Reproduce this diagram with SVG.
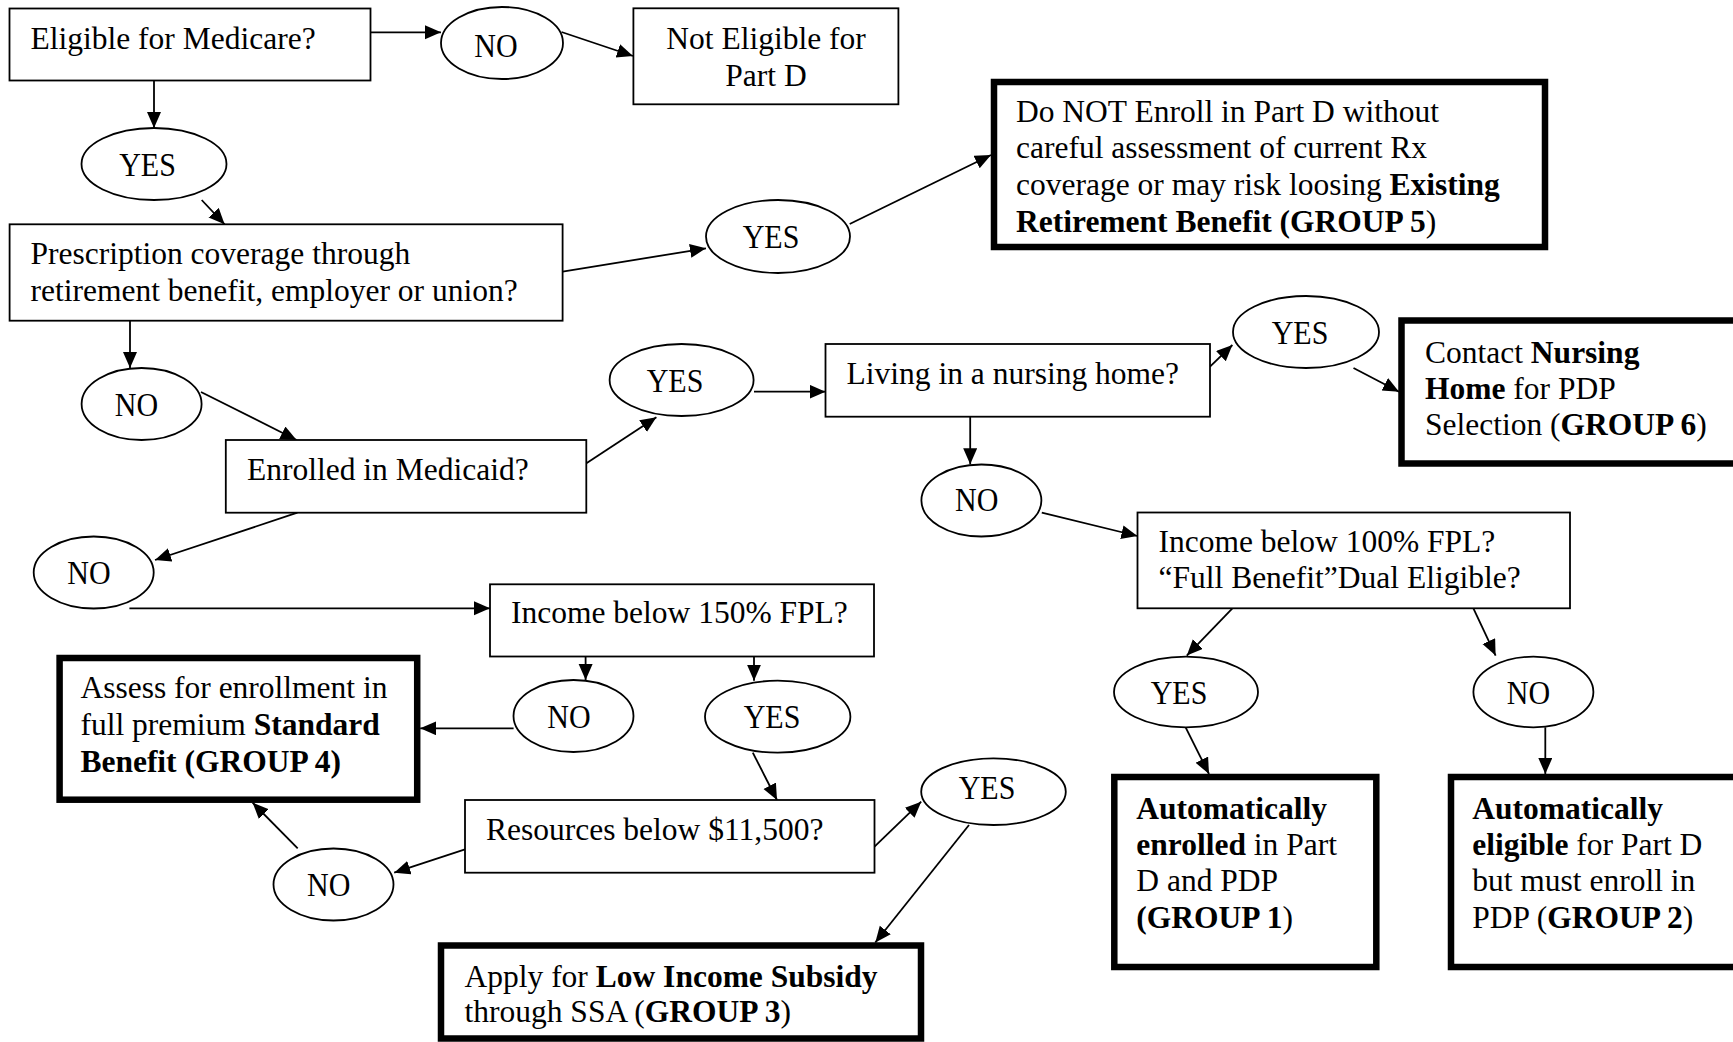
<svg xmlns="http://www.w3.org/2000/svg" width="1733" height="1042" viewBox="0 0 1733 1042">
<style>
.box{fill:#fff;stroke:#000;stroke-width:1.8}
.term{fill:#fff;stroke:#000;stroke-width:6.5}
.oval{fill:#fff;stroke:#000;stroke-width:1.8}
text{font-family:"Liberation Serif","Times New Roman",serif;font-size:31.5px;fill:#000}
.lbl{font-size:30px;text-anchor:middle}
.c{text-anchor:middle}
.b{font-weight:bold}
.con line{stroke:#000;stroke-width:1.8;marker-end:url(#ah)}
</style>
<defs>
<marker id="ah" markerUnits="userSpaceOnUse" markerWidth="17" markerHeight="15" refX="16" refY="7" orient="auto">
<path d="M0,0 L16,7 L0,14 z" fill="#000"/>
</marker>
</defs>
<rect width="1733" height="1042" fill="#fff"/>
<g id="connectors" class="con">
<line x1="370" y1="32.3" x2="441" y2="32.3"/>
<line x1="561.5" y1="32" x2="633" y2="56"/>
<line x1="154" y1="81" x2="154" y2="128"/>
<line x1="201.7" y1="200" x2="224.6" y2="224.3"/>
<line x1="562.6" y1="271.7" x2="706" y2="248.3"/>
<line x1="849.7" y1="224" x2="991" y2="155"/>
<line x1="130" y1="320.7" x2="130" y2="368"/>
<line x1="201" y1="392" x2="296.6" y2="440"/>
<line x1="586.4" y1="463.3" x2="656.4" y2="417.3"/>
<line x1="754" y1="391.7" x2="825.5" y2="391.7"/>
<line x1="1210" y1="366.7" x2="1232.4" y2="345"/>
<line x1="1353.5" y1="368" x2="1399" y2="391.7"/>
<line x1="970.2" y1="416.7" x2="970.2" y2="464.3"/>
<line x1="1041.8" y1="512.7" x2="1137.4" y2="536"/>
<line x1="1232.4" y1="608.3" x2="1186.8" y2="655.6"/>
<line x1="1473.4" y1="608.3" x2="1495.6" y2="655.6"/>
<line x1="1185.6" y1="727.3" x2="1209" y2="774"/>
<line x1="1545.3" y1="727.3" x2="1545.3" y2="774"/>
<line x1="297.4" y1="512.7" x2="155" y2="560"/>
<line x1="129.4" y1="608.3" x2="490" y2="608.3"/>
<line x1="585.6" y1="656.5" x2="585.6" y2="680"/>
<line x1="754" y1="656.5" x2="754" y2="680.7"/>
<line x1="513.6" y1="728.3" x2="420.2" y2="728.3"/>
<line x1="752.8" y1="752.7" x2="777" y2="800"/>
<line x1="874.5" y1="846.7" x2="921.2" y2="801.7"/>
<line x1="969" y1="825" x2="875.3" y2="942.5"/>
<line x1="465" y1="849.3" x2="394.2" y2="872.7"/>
<line x1="297.7" y1="848.3" x2="252.6" y2="802.7"/>
</g>
<g id="eligible"><rect class="box" x="9.5" y="8.5" width="361" height="72"/><text x="30.5" y="49">Eligible for Medicare?</text></g>
<g id="no1"><ellipse class="oval" cx="502" cy="43" rx="61" ry="36"/><text class="lbl" transform="translate(496,57) scale(1,1.13)">NO</text></g>
<g id="noteligible"><rect class="box" x="633.4" y="8.3" width="265" height="96"/><text class="c" x="766" y="49">Not Eligible for</text><text class="c" x="766" y="86">Part D</text></g>
<g id="yes1"><ellipse class="oval" cx="154" cy="164" rx="72.5" ry="36"/><text class="lbl" transform="translate(147.5,176) scale(1,1.13)">YES</text></g>
<g id="prescription"><rect class="box" x="9.6" y="224.3" width="553" height="96.4"/><text x="30.5" y="264">Prescription coverage through</text><text x="30.5" y="301">retirement benefit, employer or union?</text></g>
<g id="yes2"><ellipse class="oval" cx="778" cy="236.5" rx="72" ry="36.5"/><text class="lbl" transform="translate(771,248) scale(1,1.13)">YES</text></g>
<g id="group5"><rect class="term" x="994" y="82" width="551" height="165"/>
<text x="1016" y="122">Do NOT Enroll in Part D without</text>
<text x="1016" y="158">careful assessment of current Rx</text>
<text x="1016" y="195">coverage or may risk loosing <tspan class="b">Existing</tspan></text>
<text x="1016" y="232"><tspan class="b">Retirement Benefit (GROUP 5</tspan>)</text></g>
<g id="no2"><ellipse class="oval" cx="141.6" cy="404" rx="60" ry="36"/><text class="lbl" transform="translate(136.5,415.5) scale(1,1.13)">NO</text></g>
<g id="medicaid"><rect class="box" x="225.8" y="440" width="360.5" height="72.7"/><text x="247" y="480">Enrolled in Medicaid?</text></g>
<g id="yes3"><ellipse class="oval" cx="681.6" cy="380" rx="72" ry="36"/><text class="lbl" transform="translate(675,392) scale(1,1.13)">YES</text></g>
<g id="nursing"><rect class="box" x="825.5" y="344" width="384.5" height="72.7"/><text x="846.6" y="384">Living in a nursing home?</text></g>
<g id="yes4"><ellipse class="oval" cx="1306" cy="332" rx="73" ry="36"/><text class="lbl" transform="translate(1300,343.5) scale(1,1.13)">YES</text></g>
<g id="group6"><rect class="term" x="1401.5" y="320.5" width="345" height="143"/>
<text x="1425" y="363">Contact <tspan class="b">Nursing</tspan></text>
<text x="1425" y="398.5"><tspan class="b">Home</tspan> for PDP</text>
<text x="1425" y="435">Selection (<tspan class="b">GROUP 6</tspan>)</text></g>
<g id="no3"><ellipse class="oval" cx="981.4" cy="500.5" rx="60" ry="36"/><text class="lbl" transform="translate(976.7,511) scale(1,1.13)">NO</text></g>
<g id="income100"><rect class="box" x="1137.5" y="512.5" width="432.5" height="95.8"/><text x="1158.5" y="552">Income below 100% FPL?</text><text x="1158.5" y="588">“Full Benefit”Dual Eligible?</text></g>
<g id="yes7"><ellipse class="oval" cx="1186" cy="692" rx="72" ry="35.3"/><text class="lbl" transform="translate(1179,703.5) scale(1,1.13)">YES</text></g>
<g id="no7"><ellipse class="oval" cx="1533.4" cy="692" rx="60" ry="35.3"/><text class="lbl" transform="translate(1528.5,703.5) scale(1,1.13)">NO</text></g>
<g id="group1"><rect class="term" x="1114.3" y="777" width="262" height="190"/>
<text x="1136.3" y="819"><tspan class="b">Automatically</tspan></text>
<text x="1136.3" y="855"><tspan class="b">enrolled</tspan> in Part</text>
<text x="1136.3" y="891">D and PDP</text>
<text x="1136.3" y="928"><tspan class="b">(GROUP 1</tspan>)</text></g>
<g id="group2"><rect class="term" x="1451" y="777" width="295" height="190"/>
<text x="1472.2" y="819"><tspan class="b">Automatically</tspan></text>
<text x="1472.2" y="855"><tspan class="b">eligible</tspan> for Part D</text>
<text x="1472.2" y="891">but must enroll in</text>
<text x="1472.2" y="928">PDP (<tspan class="b">GROUP 2</tspan>)</text></g>
<g id="no4"><ellipse class="oval" cx="93.7" cy="572.5" rx="60" ry="36"/><text class="lbl" transform="translate(89,584) scale(1,1.13)">NO</text></g>
<g id="income150"><rect class="box" x="490" y="584.3" width="384" height="72.2"/><text x="511" y="623">Income below 150% FPL?</text></g>
<g id="no5"><ellipse class="oval" cx="573.5" cy="716" rx="60" ry="36"/><text class="lbl" transform="translate(569,727.5) scale(1,1.13)">NO</text></g>
<g id="yes5"><ellipse class="oval" cx="777.7" cy="716.7" rx="72.7" ry="36"/><text class="lbl" transform="translate(772,727.5) scale(1,1.13)">YES</text></g>
<g id="group4"><rect class="term" x="59.6" y="658" width="357.6" height="141.7"/>
<text x="80.4" y="698">Assess for enrollment in</text>
<text x="80.4" y="735">full premium <tspan class="b">Standard</tspan></text>
<text x="80.4" y="772"><tspan class="b">Benefit (GROUP 4)</tspan></text></g>
<g id="resources"><rect class="box" x="465" y="800" width="409.5" height="72.7"/><text x="486" y="840">Resources below $11,500?</text></g>
<g id="yes6"><ellipse class="oval" cx="993.5" cy="791.7" rx="72.3" ry="33.3"/><text class="lbl" transform="translate(987,799) scale(1,1.13)">YES</text></g>
<g id="no6"><ellipse class="oval" cx="333.5" cy="884.5" rx="60" ry="36"/><text class="lbl" transform="translate(328.7,896) scale(1,1.13)">NO</text></g>
<g id="group3"><rect class="term" x="441" y="945.5" width="480" height="93"/>
<text x="464.5" y="987">Apply for <tspan class="b">Low Income Subsidy</tspan></text>
<text x="464.5" y="1022">through SSA (<tspan class="b">GROUP 3</tspan>)</text></g>
</svg>
